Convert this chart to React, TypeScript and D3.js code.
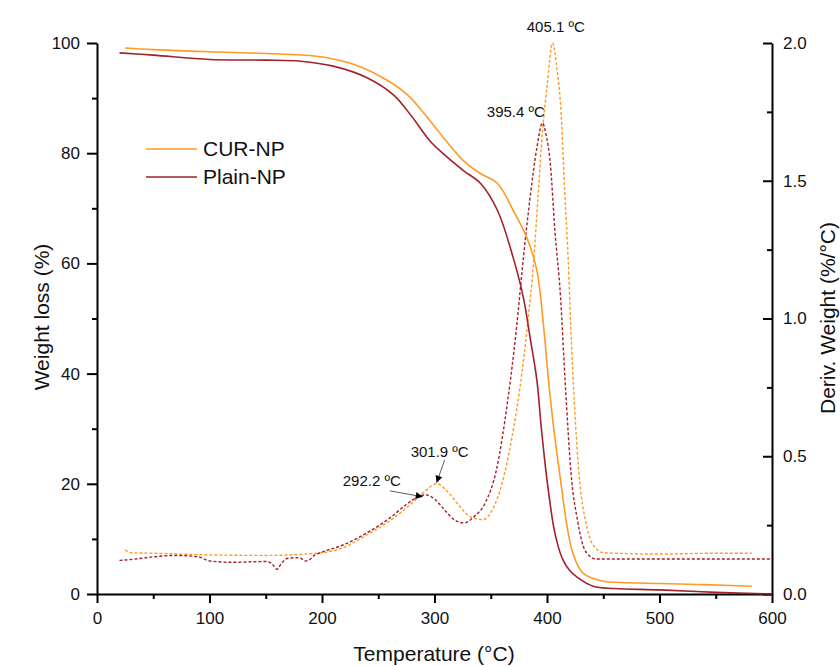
import React, { useEffect, useRef } from 'react';
import * as d3 from 'd3';

// TG curves (weight %, left axis)
const curTgTemp = [25, 50, 100, 150, 195, 224, 254, 276, 296, 310, 326, 340, 356, 370, 382, 391, 397, 401, 406, 412, 418, 423, 432, 450, 465, 500, 540, 582];
const curTgVal = [99.1, 98.8, 98.4, 98.1, 97.6, 96.4, 93.7, 90.6, 85.9, 82.3, 78.6, 76.4, 74.5, 69.6, 64.7, 58.7, 48.5, 39.5, 30, 20.7, 12.1, 7.4, 3.8, 2.3, 2.1, 1.9, 1.7, 1.4];

const plainTgTemp = [20, 50, 100, 150, 181, 210, 240, 264, 280, 296, 310, 326, 341, 356, 370, 379, 385, 391, 395, 400, 406, 410, 414, 420, 427, 441, 460, 500, 550, 600];
const plainTgVal = [98.2, 97.8, 97.0, 96.9, 96.7, 95.8, 93.7, 90.5, 86.6, 82.2, 79.5, 76.8, 74.5, 69.6, 61, 53.8, 46.5, 38.8, 30, 20.7, 12.1, 8.6, 6.3, 4.3, 3.0, 1.4, 1.0, 0.75, 0.3, 0.0];

// DTG curves (deriv. weight %/°C, right axis)
const curDtgTemp = [25, 30, 50, 100, 150, 200, 220, 240, 260, 280, 292, 302, 312, 322, 332, 343, 352, 360, 368, 376, 383, 388, 392, 396, 400, 405, 409, 412, 416, 419, 421, 423, 429, 434, 440, 450, 500, 550, 582];
const curDtgVal = [0.16, 0.15, 0.148, 0.142, 0.14, 0.15, 0.17, 0.215, 0.265, 0.33, 0.375, 0.4, 0.37, 0.32, 0.28, 0.27, 0.31, 0.4, 0.55, 0.75, 0.99, 1.2, 1.44, 1.68, 1.84, 2.0, 1.9, 1.78, 1.44, 1.2, 0.98, 0.8, 0.41, 0.27, 0.185, 0.15, 0.145, 0.148, 0.148];

const plainDtgTemp = [20, 30, 50, 70, 90, 100, 120, 150, 155, 160, 164, 170, 180, 185, 188, 193, 200, 220, 240, 260, 275, 285, 292, 300, 310, 318, 326, 335, 345, 355, 365, 373, 379, 385, 391, 396, 399, 403, 407, 412, 416, 422, 427, 431, 436, 444, 460, 600];
const plainDtgVal = [0.122, 0.125, 0.135, 0.14, 0.135, 0.12, 0.115, 0.118, 0.112, 0.09, 0.112, 0.13, 0.132, 0.12, 0.122, 0.14, 0.152, 0.18, 0.222, 0.275, 0.325, 0.352, 0.36, 0.345, 0.3, 0.268, 0.258, 0.28, 0.33, 0.45, 0.7, 0.97, 1.22, 1.44, 1.62, 1.71, 1.67, 1.56, 1.32, 1.08, 0.78, 0.41, 0.27, 0.19, 0.145, 0.127, 0.127, 0.127];

const seriesNames = ['CUR-NP', 'Plain-NP'];
const seriesColors = ['#ff9a22', '#a3212b'];

const xMajor = [0, 100, 200, 300, 400, 500, 600];
const xMinor = [50, 150, 250, 350, 450, 550];
const yLeftMajor = [0, 20, 40, 60, 80, 100];
const yLeftMinor = [10, 30, 50, 70, 90];
const yRightMajor = [0, 0.5, 1.0, 1.5, 2.0];
const yRightMinor = [0.25, 0.75, 1.25, 1.75];

const FONT = 'Liberation Sans, Arial, sans-serif';

export default function App() {
  const svgRef = useRef(null);

  useEffect(() => {
    const svg = d3.select(svgRef.current);
    svg.selectAll('*').remove();

    const x = d3.scaleLinear().domain([0, 600]).range([97, 772]);
    const yL = d3.scaleLinear().domain([0, 100]).range([594, 43]);
    const yR = d3.scaleLinear().domain([0, 2]).range([594, 43]);

    svg.append('rect').attr('width', 840).attr('height', 666).attr('fill', '#ffffff');

    const defs = svg.append('defs');
    defs.append('marker')
      .attr('id', 'arrow')
      .attr('viewBox', '0 0 10 10')
      .attr('refX', 10).attr('refY', 5)
      .attr('markerWidth', 10).attr('markerHeight', 7)
      .attr('markerUnits', 'userSpaceOnUse')
      .attr('orient', 'auto')
      .append('path').attr('d', 'M0,0 L10,5 L0,10 Z').attr('fill', '#000');

    const styleAxis = (g, size) => {
      g.selectAll('path.domain').attr('stroke', '#000').attr('stroke-width', 2);
      g.selectAll('.tick line').attr('stroke', '#000').attr('stroke-width', 2);
      g.selectAll('.tick text').attr('font-family', FONT).attr('font-size', size).attr('fill', '#111');
    };

    // x axis
    const gx = svg.append('g').attr('transform', `translate(0,${yL(0)})`);
    gx.call(d3.axisBottom(x).tickValues(xMajor).tickSize(9).tickSizeOuter(0).tickPadding(9).tickFormat(d3.format('d')));
    styleAxis(gx, 17);
    const gxm = svg.append('g').attr('transform', `translate(0,${yL(0)})`);
    gxm.call(d3.axisBottom(x).tickValues(xMinor).tickSize(5).tickFormat(() => ''));
    gxm.select('path.domain').remove();
    styleAxis(gxm, 17);

    // left axis
    const gl = svg.append('g').attr('transform', `translate(${x(0)},0)`);
    gl.call(d3.axisLeft(yL).tickValues(yLeftMajor).tickSize(10).tickSizeOuter(0).tickPadding(7).tickFormat(d3.format('d')));
    styleAxis(gl, 17);
    const glm = svg.append('g').attr('transform', `translate(${x(0)},0)`);
    glm.call(d3.axisLeft(yL).tickValues(yLeftMinor).tickSize(5).tickFormat(() => ''));
    glm.select('path.domain').remove();
    styleAxis(glm, 17);

    // right axis (ticks inward)
    const gr = svg.append('g').attr('transform', `translate(${x(600)},0)`);
    gr.call(d3.axisRight(yR).tickValues(yRightMajor).tickSize(-9).tickSizeOuter(0).tickPadding(11).tickFormat(d3.format('.1f')));
    styleAxis(gr, 17);
    const grm = svg.append('g').attr('transform', `translate(${x(600)},0)`);
    grm.call(d3.axisRight(yR).tickValues(yRightMinor).tickSize(-5).tickFormat(() => ''));
    grm.select('path.domain').remove();
    styleAxis(grm, 17);

    // axis titles
    svg.append('text')
      .attr('x', 434).attr('y', 661)
      .attr('text-anchor', 'middle')
      .attr('font-family', FONT).attr('font-size', 21).attr('fill', '#111')
      .text('Temperature (°C)');
    svg.append('text')
      .attr('transform', 'translate(49,317) rotate(-90)')
      .attr('text-anchor', 'middle')
      .attr('font-family', FONT).attr('font-size', 21).attr('fill', '#111')
      .text('Weight loss (%)');
    svg.append('text')
      .attr('transform', 'translate(835,318) rotate(-90)')
      .attr('text-anchor', 'middle')
      .attr('font-family', FONT).attr('font-size', 21).attr('fill', '#111')
      .text('Deriv. Weight (%/°C)');

    const lineL = d3.line().x(d => x(d[0])).y(d => yL(d[1])).curve(d3.curveCatmullRom.alpha(0.5));
    const lineR = d3.line().x(d => x(d[0])).y(d => yR(d[1])).curve(d3.curveMonotoneX);

    const tg = [d3.zip(curTgTemp, curTgVal), d3.zip(plainTgTemp, plainTgVal)];
    const dtg = [d3.zip(curDtgTemp, curDtgVal), d3.zip(plainDtgTemp, plainDtgVal)];

    dtg.forEach((pts, i) => {
      svg.append('path')
        .attr('d', lineR(pts))
        .attr('fill', 'none')
        .attr('stroke', seriesColors[i])
        .attr('stroke-width', 1.4)
        .attr('stroke-dasharray', '3,2');
    });
    tg.forEach((pts, i) => {
      svg.append('path')
        .attr('d', lineL(pts))
        .attr('fill', 'none')
        .attr('stroke', seriesColors[i])
        .attr('stroke-width', 1.6);
    });

    // legend
    const lg = svg.append('g');
    seriesNames.forEach((name, i) => {
      const ly = 149 + i * 28;
      lg.append('line').attr('x1', 146).attr('x2', 197).attr('y1', ly).attr('y2', ly)
        .attr('stroke', seriesColors[i]).attr('stroke-width', 1.6);
      lg.append('text').attr('x', 203).attr('y', ly + 7)
        .attr('font-family', FONT).attr('font-size', 21).attr('fill', '#111')
        .text(name);
    });

    // peak annotations
    const ann = (t, xPos, yPos, anchor) => svg.append('text')
      .attr('x', xPos).attr('y', yPos)
      .attr('text-anchor', anchor)
      .attr('font-family', FONT).attr('font-size', 15).attr('fill', '#111')
      .text(t);

    ann('405.1 ºC', x(405.1) + 3, yR(2.0) - 11, 'middle');
    ann('395.4 ºC', x(395.4) + 3, yR(1.71) - 6, 'end');
    ann('301.9 ºC', x(301.9) + 3, yR(0.4) - 27, 'middle');
    ann('292.2 ºC', x(292.2) - 83, yR(0.36) - 9, 'start');

    svg.append('line')
      .attr('x1', x(301.9) + 8).attr('y1', yR(0.4) - 24)
      .attr('x2', x(301.9)).attr('y2', yR(0.4) - 1)
      .attr('stroke', '#333').attr('stroke-width', 0.8)
      .attr('marker-end', 'url(#arrow)');
    svg.append('line')
      .attr('x1', x(292.2) - 36).attr('y1', yR(0.36) - 4)
      .attr('x2', x(292.2) - 3).attr('y2', yR(0.36) + 2)
      .attr('stroke', '#333').attr('stroke-width', 0.8)
      .attr('marker-end', 'url(#arrow)');
  }, []);

  return (
    <svg
      ref={svgRef}
      width={840}
      height={666}
      style={{ position: 'absolute', left: 0, top: 0, display: 'block' }}
      aria-label="TGA and DTG curves of CUR-NP and Plain-NP"
    />
  );
}
